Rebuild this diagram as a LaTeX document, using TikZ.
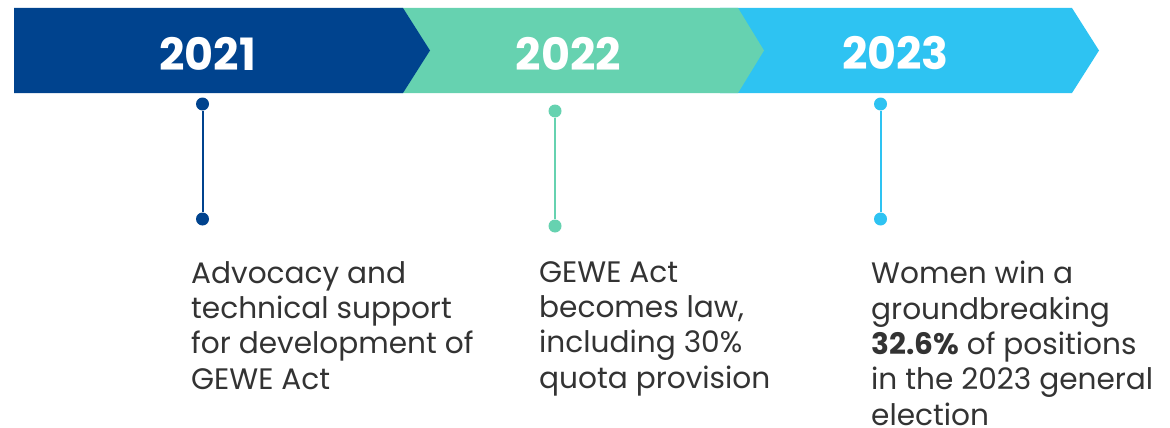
\documentclass[tikz,border=0pt]{standalone}
\usepackage{fontspec}
\setmainfont{Poppins}
\definecolor{cblue}{HTML}{00438E}
\definecolor{cgreen}{HTML}{66D2B0}
\definecolor{ccyan}{HTML}{2EC3F2}
\definecolor{ctext}{HTML}{333333}
\begin{document}
\begin{tikzpicture}[x=1pt,y=-1pt,
  year/.style={text=white,font=\fontsize{44.5}{48}\selectfont\bfseries,inner sep=0pt,anchor=center},
  dot/.style={circle,fill=#1,inner sep=0pt,minimum size=13pt},
  stem/.style={draw=#1,line width=2pt},
  desc/.style={text=ctext,font=\fontsize{29.6}{35.4}\selectfont,align=left,anchor=north west,inner sep=0pt}]
\useasboundingbox (0,0) rectangle (1170,428);
% arrows
\fill[ccyan] (720,8) -- (1072,8) -- (1099,50.5) -- (1072,93) -- (720,93) -- cycle;
\fill[cgreen] (380,8) -- (738,8) -- (764,50.5) -- (738,93) -- (380,93) -- cycle;
\fill[cblue] (14,8) -- (403,8) -- (430,50.5) -- (403,93) -- (14,93) -- cycle;
% years
\node[year] (y1) at (207.5,53.5) {2021};
\node[year] (y2) at (568.5,53.5) {2022};
\node[year] (y3) at (895.5,53.5) {2023};
% pins
\node[dot=cblue] (a1) at (202.5,104) {};
\node[dot=cblue] (b1) at (202.5,219) {};
\node[dot=cgreen] (a2) at (555,111) {};
\node[dot=cgreen] (b2) at (555,226) {};
\node[dot=ccyan] (a3) at (880.5,104) {};
\node[dot=ccyan] (b3) at (880.5,219) {};
\draw[stem=cblue] (a1) -- (b1);
\draw[stem=cgreen] (a2) -- (b2);
\draw[stem=ccyan] (a3) -- (b3);
% descriptions
\node[desc] (t1) at (191,261) {Advocacy and\\technical support\\for development of\\GEWE Act};
\node[desc] (t2) at (539,261) {GEWE Act\\becomes law,\\including 30\%\\quota provision};
\node[desc] (t3) at (871,261) {Women win a\\groundbreaking\\\textbf{32.6\%} of positions\\in the 2023 general\\election};
\end{tikzpicture}
\end{document}
